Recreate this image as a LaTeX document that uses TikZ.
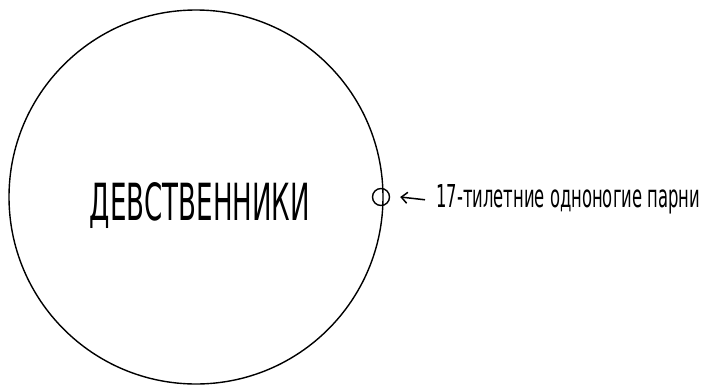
\documentclass[tikz,border=0pt]{standalone}
\usepackage{fontspec}
\setmainfont{DejaVu Sans}
\usetikzlibrary{arrows.meta}
\tikzset{
  ring/.style={circle,draw,line width=1.4pt,inner sep=0pt},
  lbltext/.style={inner sep=0pt},
  pointer/.style={line width=1.5pt,-{Straight Barb[length=6pt,width=11pt,line width=1.5pt]}}
}
\begin{document}
\begin{tikzpicture}[x=1pt,y=-1pt]
\useasboundingbox[fill=white] (0,0) rectangle (710,386);
\node[ring,minimum size=374pt] (big) at (196,197) {};
\node[lbltext,anchor=base] (title) at (200,220) {\resizebox{220pt}{38pt}{ДЕВСТВЕННИКИ}};
\node[ring,minimum size=17pt] (small) at (381,197) {};
\node[lbltext,anchor=base west] (lbl) at (436,207) {\resizebox{264pt}{23pt}{17-тилетние одноногие парни}};
\draw[pointer] ([xshift=-11pt,yshift=-1pt]lbl.west) -- ([xshift=10pt]small.east);
\end{tikzpicture}
\end{document}
